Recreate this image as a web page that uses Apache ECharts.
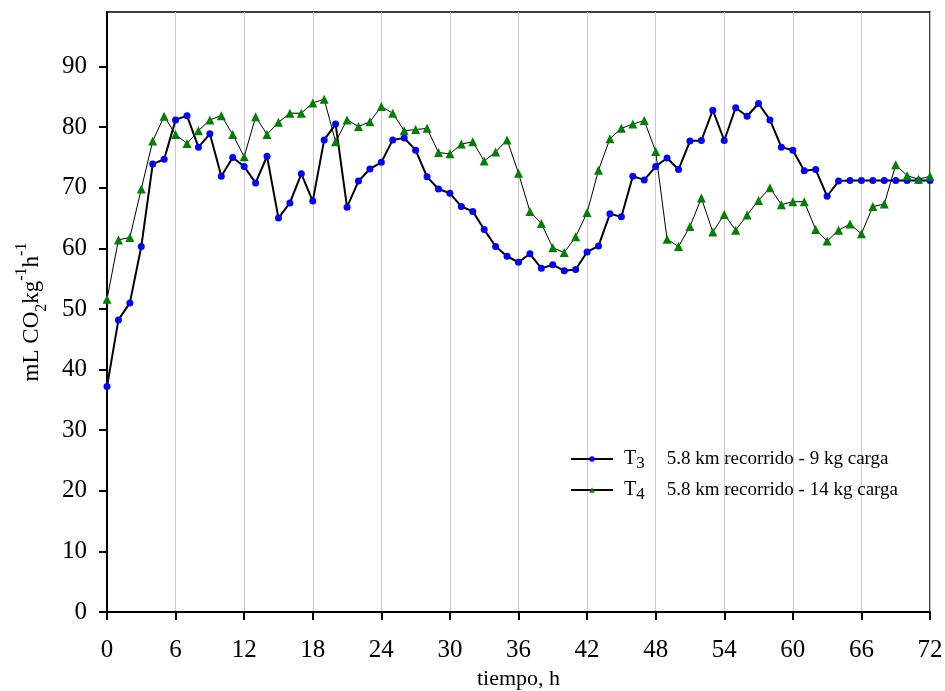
<!DOCTYPE html>
<html>
<head>
<meta charset="utf-8">
<script src="https://cdn.jsdelivr.net/npm/echarts@6/dist/echarts.min.js"></script>
<style>
  html, body { margin: 0; padding: 0; background: #fff; }
  #chart { width: 945px; height: 691px; }
</style>
</head>
<body>
<div id="chart"></div>
<script>
// horas de medición
const hours = [0, 1, 2, 3, 4, 5, 6, 7, 8, 9, 10, 11, 12, 13, 14, 15, 16, 17, 18, 19, 20,
  21, 22, 23, 24, 25, 26, 27, 28, 29, 30, 31, 32, 33, 34, 35, 36, 37, 38, 39, 40,
  41, 42, 43, 44, 45, 46, 47, 48, 49, 50, 51, 52, 53, 54, 55, 56, 57, 58, 59, 60,
  61, 62, 63, 64, 65, 66, 67, 68, 69, 70, 71, 72]
// T3 5.8 km recorrido - 9 kg carga
const t3Values = [37.2, 48.2, 51.0, 60.3, 73.9, 74.7, 81.2, 81.9, 76.7, 78.9, 71.9,
  75.0, 73.5, 70.8, 75.2, 65.0, 67.5, 72.3, 67.8, 77.9, 80.5,
  66.8, 71.1, 73.1, 74.2, 77.9, 78.2, 76.2, 71.8, 69.8, 69.1,
  66.9, 66.1, 63.1, 60.3, 58.7, 57.7, 59.1, 56.7, 57.3, 56.3,
  56.5, 59.4, 60.4, 65.7, 65.2, 71.9, 71.3, 73.5, 74.9, 73.0,
  77.7, 77.8, 82.8, 77.8, 83.2, 81.8, 83.9, 81.2, 76.7, 76.2,
  72.8, 73.0, 68.6, 71.1, 71.2, 71.2, 71.2, 71.2, 71.2, 71.2, 71.2, 71.2]
// T4 5.8 km recorrido - 14 kg carga
const t4Values = [51.6, 61.4, 61.8, 69.8, 77.7, 81.8, 78.8, 77.3, 79.4, 81.2, 81.9,
  78.8, 75.1, 81.7, 78.8, 80.8, 82.3, 82.3, 84.0, 84.6, 77.6,
  81.2, 80.1, 80.9, 83.4, 82.3, 79.4, 79.6, 79.8, 75.8, 75.6,
  77.2, 77.6, 74.4, 75.9, 77.9, 72.4, 66.1, 64.1, 60.1, 59.3,
  61.9, 65.9, 72.9, 78.1, 79.8, 80.5, 81.1, 76.0, 61.5, 60.3,
  63.6, 68.3, 62.7, 65.6, 63.0, 65.5, 67.9, 70.0, 67.2, 67.7,
  67.7, 63.1, 61.2, 63.0, 64.0, 62.4, 66.9, 67.3, 73.8, 72.0, 71.4, 71.9]

const seriesNames = ['T3', 'T4']
const legendSubs = ['3', '4']
const legendDescs = ['5.8 km recorrido - 9 kg carga', '5.8 km recorrido - 14 kg carga']

const serif = 'Liberation Serif'
const chart = echarts.init(document.getElementById('chart'))

const toPairs = vals => vals.map((v, i) => [hours[i], v])

const option = {
  animation: false,
  backgroundColor: '#fff',
  grid: {
    left: 107,
    right: 15,
    top: 12,
    bottom: 79,
    outerBoundsMode: 'none',
    show: true,
    borderColor: '#000',
    borderWidth: 1.5
  },
  legend: {
    orient: 'vertical',
    left: 570,
    top: 449,
    padding: 0,
    itemWidth: 42,
    itemHeight: 7,
    itemGap: 8,
    data: seriesNames,
    formatter: name => {
      const i = seriesNames.indexOf(name)
      return '{t|T}{s|' + legendSubs[i] + '}{d|' + legendDescs[i] + '}'
    },
    textStyle: {
      rich: {
        t: { fontFamily: serif, fontSize: 20, color: '#000', lineHeight: 26, padding: [0, 0, 0, 6], verticalAlign: 'middle' },
        s: { fontFamily: serif, fontSize: 17, color: '#000', lineHeight: 12, verticalAlign: 'bottom' },
        d: { fontFamily: serif, fontSize: 19, color: '#000', lineHeight: 26, padding: [0, 0, 0, 22], verticalAlign: 'middle' }
      }
    }
  },
  xAxis: {
    type: 'value',
    min: 0,
    max: 72,
    interval: 6,
    name: 'tiempo, h',
    nameLocation: 'middle',
    nameGap: 54,
    nameTextStyle: { fontFamily: serif, fontSize: 22, color: '#000' },
    axisLine: { lineStyle: { color: '#000', width: 2 } },
    axisTick: { length: 8, lineStyle: { color: '#000', width: 2 } },
    axisLabel: { fontFamily: serif, fontSize: 25, color: '#000', margin: 26 },
    splitLine: { show: true, lineStyle: { color: '#c8c8c8', width: 1 } }
  },
  yAxis: {
    type: 'value',
    min: 0,
    max: 99,
    interval: 10,
    name: '{n|mL CO}{sub|2}{n|kg}{sup|-1}{n|h}{sup|-1}',
    nameLocation: 'middle',
    nameGap: 57,
    nameTextStyle: {
      rich: {
        n: { fontFamily: serif, fontSize: 23, color: '#000', lineHeight: 36, verticalAlign: 'middle' },
        sub: { fontFamily: serif, fontSize: 16, color: '#000', lineHeight: 15, verticalAlign: 'bottom' },
        sup: { fontFamily: serif, fontSize: 16, color: '#000', lineHeight: 15, verticalAlign: 'top' }
      }
    },
    axisLine: { show: true, lineStyle: { color: '#000', width: 2 } },
    axisTick: { show: true, length: 8, lineStyle: { color: '#000', width: 2 } },
    axisLabel: { fontFamily: serif, fontSize: 25, color: '#000', margin: 20, showMaxLabel: false },
    splitLine: { show: false }
  },
  series: [
    {
      name: seriesNames[0],
      type: 'line',
      data: toPairs(t3Values),
      symbol: 'circle',
      symbolSize: 7,
      itemStyle: { color: '#0000ff' },
      lineStyle: { color: '#000', width: 2 }
    },
    {
      name: seriesNames[1],
      type: 'line',
      data: toPairs(t4Values),
      symbol: 'triangle',
      symbolSize: 9,
      itemStyle: { color: '#008000' },
      lineStyle: { color: '#000', width: 1 }
    }
  ]
}
chart.setOption(option)
</script>
</body>
</html>
